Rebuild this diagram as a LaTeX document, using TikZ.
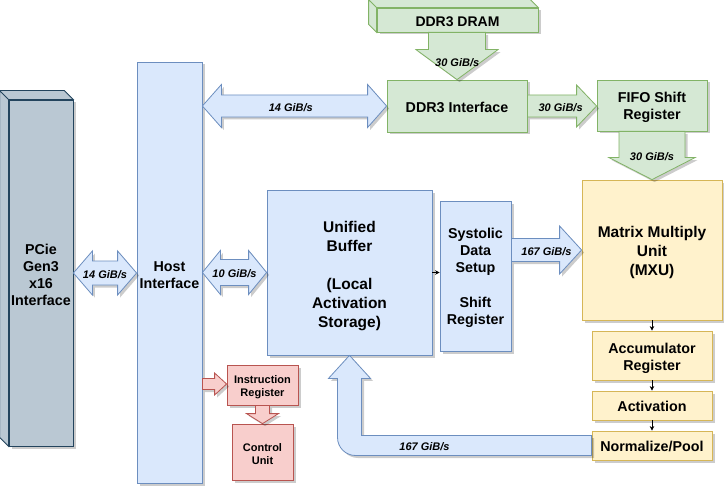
\documentclass[tikz,border=0pt]{standalone}
\usepackage{fontspec}
\setmainfont{Liberation Sans}
\usetikzlibrary{calc,shadows,arrows.meta}

\definecolor{bluefill}{HTML}{DAE8FC}
\definecolor{blueline}{HTML}{6C8EBF}
\definecolor{greenfill}{HTML}{D5E8D4}
\definecolor{greenline}{HTML}{82B366}
\definecolor{yellowfill}{HTML}{FFF2CC}
\definecolor{yellowline}{HTML}{D6B656}
\definecolor{redfill}{HTML}{F8CECC}
\definecolor{redline}{HTML}{B85450}
\definecolor{grayfill}{HTML}{BAC8D3}
\definecolor{grayline}{HTML}{23445D}

% pushes the first line of a label down a little
\newcommand{\toppad}[1]{\rule{0pt}{#1}}

\tikzset{
  boxshadow/.style={drop shadow={shadow xshift=2.5pt,shadow yshift=-2.5pt,opacity=0.2,fill=black}},
  tpubox/.style={draw,line width=0.8pt,boxshadow,align=center,inner sep=0pt,
    font=\bfseries\fontsize{14.3}{17}\selectfont},
  bluebox/.style={tpubox,fill=bluefill,draw=blueline},
  greenbox/.style={tpubox,fill=greenfill,draw=greenline},
  yellowbox/.style={tpubox,fill=yellowfill,draw=yellowline},
  redbox/.style={tpubox,fill=redfill,draw=redline,font=\bfseries\fontsize{11}{13}\selectfont},
  graybox/.style={tpubox,fill=grayfill,draw=grayline},
  bigtext/.style={font=\bfseries\fontsize{15.5}{19}\selectfont},
  busarrow/.style={line width=0.8pt,line join=miter,boxshadow},
  ratelabel/.style={inner sep=0pt,yshift=-1.5pt,font=\bfseries\itshape\fontsize{11}{13}\selectfont},
  wire/.style={-{Stealth[length=4.5pt,width=4.5pt]},line width=0.8pt}
}

\begin{document}
\begin{tikzpicture}[x=1pt,y=1pt]
\useasboundingbox (0,0) rectangle (724,-487);

% blocks
\node[graybox,minimum width=64,minimum height=346] (pcie) at (41,-273) {\toppad{15pt}PCie\\Gen3\\x16\\Interface};
\node[bluebox,minimum width=65,minimum height=421] (host) at (169.5,-272.5) {\toppad{16pt}Host\\Interface};
\node[greenbox,minimum width=161,minimum height=24,font=\bfseries\fontsize{14}{16}\selectfont] (dram) at (457.5,-20) {\toppad{13pt}DDR3 DRAM};
\node[greenbox,minimum width=140,minimum height=52] (ddr) at (457,-106) {\toppad{13pt}DDR3 Interface};
\node[greenbox,minimum width=110,minimum height=51] (fifo) at (652,-105.5) {\toppad{15pt}FIFO Shift\\Register};
\node[yellowbox,bigtext,minimum width=140,minimum height=140] (mxu) at (652,-250) {\toppad{16.5pt}Matrix Multiply\\Unit\\(MXU)};
\node[bluebox,bigtext,minimum width=165,minimum height=165] (ub) at (349.5,-272.5) {\toppad{18pt}Unified\\Buffer\\[19pt](Local\\Activation\\Storage)};
\node[bluebox,minimum width=71,minimum height=150] (sds) at (475.5,-276) {\toppad{15pt}Systolic\\Data\\Setup\\[18pt]Shift\\Register};
\node[yellowbox,minimum width=120,minimum height=49] (acc) at (652,-355.5) {\toppad{16pt}Accumulator\\Register};
\node[yellowbox,minimum width=120,minimum height=29] (act) at (652,-405.5) {\toppad{13pt}Activation};
\node[yellowbox,minimum width=120,minimum height=29] (norm) at (652,-445.5) {\toppad{13pt}Normalize/Pool};
\node[redbox,minimum width=71,minimum height=40] (instr) at (262.5,-385) {\toppad{12pt}Instruction\\Register};
\node[redbox,minimum width=61,minimum height=56] (ctrl) at (262.5,-452) {\toppad{12pt}Control\\Unit};

% 3d faces
\filldraw[fill=grayfill,draw=grayline,line width=0.8pt] (pcie.south west) -- ++(-9,9) -- ($(pcie.north west)+(-9,9)$) -- ($(pcie.north east)+(-9,9)$) -- (pcie.north east) -- (pcie.north west) -- cycle (pcie.north west) -- ++(-9,9);
\filldraw[fill=greenfill,draw=greenline,line width=0.8pt] (dram.south west) -- ++(-8,8) -- ($(dram.north west)+(-8,8)$) -- ($(dram.north east)+(-8,8)$) -- (dram.north east) -- (dram.north west) -- cycle (dram.north west) -- ++(-8,8);

% bus arrows
\filldraw[busarrow,fill=bluefill,draw=blueline] let \p1=(pcie.east), \p2=(host.west) in
  (\x1,\y1) -- (\x1+19,\y1+22) -- (\x1+19,\y1+12) -- (\x2-19,\y1+12) -- (\x2-19,\y1+22) -- (\x2,\y1)
  -- (\x2-19,\y1-22) -- (\x2-19,\y1-12) -- (\x1+19,\y1-12) -- (\x1+19,\y1-22) -- cycle;
\filldraw[busarrow,fill=bluefill,draw=blueline] let \p1=(host.east), \p2=(ddr.west) in
  (\x1,\y2) -- (\x1+19,\y2+21.5) -- (\x1+19,\y2+11) -- (\x2-19,\y2+11) -- (\x2-19,\y2+21.5) -- (\x2,\y2)
  -- (\x2-19,\y2-21.5) -- (\x2-19,\y2-11) -- (\x1+19,\y2-11) -- (\x1+19,\y2-21.5) -- cycle;
\filldraw[busarrow,fill=bluefill,draw=blueline] let \p1=(host.east), \p2=(ub.west) in
  (\x1,\y2) -- (\x1+18,\y2+22) -- (\x1+18,\y2+13) -- (\x2-18,\y2+13) -- (\x2-18,\y2+22) -- (\x2,\y2)
  -- (\x2-18,\y2-22) -- (\x2-18,\y2-13) -- (\x1+18,\y2-13) -- (\x1+18,\y2-22) -- cycle;
\filldraw[busarrow,fill=greenfill,draw=greenline] let \p1=(dram.south), \p2=(ddr.north) in
  (\x2-28.5,\y1) -- (\x2+28.5,\y1) -- (\x2+28.5,\y2+30) -- (\x2+41,\y2+30) -- (\x2,\y2)
  -- (\x2-41,\y2+30) -- (\x2-28.5,\y2+30) -- cycle;
\filldraw[busarrow,fill=greenfill,draw=greenline] let \p1=(ddr.east), \p2=(fifo.west) in
  (\x1,\y1+11) -- (\x2-20,\y1+11) -- (\x2-20,\y1+21) -- (\x2,\y1) -- (\x2-20,\y1-21) -- (\x2-20,\y1-11)
  -- (\x1,\y1-11) -- cycle;
\filldraw[busarrow,fill=greenfill,draw=greenline] let \p1=(fifo.south), \p2=(mxu.north) in
  (\x2-33,\y1) -- (\x2+33,\y1) -- (\x2+33,\y2+22) -- (\x2+43,\y2+22) -- (\x2,\y2)
  -- (\x2-43,\y2+22) -- (\x2-33,\y2+22) -- cycle;
\filldraw[busarrow,fill=bluefill,draw=blueline] let \p1=(sds.east), \p2=(mxu.west) in
  (\x1,\y2+11.5) -- (\x2-22,\y2+11.5) -- (\x2-22,\y2+24) -- (\x2,\y2) -- (\x2-22,\y2-24) -- (\x2-22,\y2-11.5)
  -- (\x1,\y2-11.5) -- cycle;
\filldraw[busarrow,fill=redfill,draw=redline] let \p1=(host.east), \p2=(instr.west) in
  (\x1,\y2+6.5) -- (\x2-12,\y2+6.5) -- (\x2-12,\y2+12) -- (\x2,\y2+1) -- (\x2-12,\y2-10) -- (\x2-12,\y2-4.5)
  -- (\x1,\y2-4.5) -- cycle;
\filldraw[busarrow,fill=redfill,draw=redline] let \p1=(instr.south), \p2=(ctrl.north) in
  (\x1-7,\y1) -- (\x1+7,\y1) -- (\x1+7,\y2+10) -- (\x1+16,\y2+10) -- (\x1,\y2)
  -- (\x1-16,\y2+10) -- (\x1-7,\y2+10) -- cycle;
\filldraw[busarrow,fill=bluefill,draw=blueline] let \p1=(norm.west), \p2=(ub.south) in
  (\x1,\y1+10) -- (\x2+12,\y1+10) -- (\x2+12,\y2-23) -- (\x2+21,\y2-23) -- (\x2,\y2) -- (\x2-21,\y2-23)
  -- (\x2-12,\y2-23) -- (\x2-12,\y1+8) arc[start angle=180,end angle=270,radius=18] -- (\x1,\y1-10) -- cycle;

% rates
\node[ratelabel] (r1) at ($(pcie.east)!0.5!(host.west)$) {14 GiB/s};
\node[ratelabel] (r2) at ($(host.east |- ddr.west)!0.48!(ddr.west)$) {14 GiB/s};
\node[ratelabel] (r3) at ($(host.east |- ub.west)!0.5!(ub.west)$) {10 GiB/s};
\node[ratelabel] (r4) at ($(dram.south)!0.6!(ddr.north)$) {30 GiB/s};
\node[ratelabel] (r5) at ($(ddr.east)!0.48!(fifo.west)$) {30 GiB/s};
\node[ratelabel] (r6) at ($(fifo.south)!0.5!(mxu.north)$) {30 GiB/s};
\node[ratelabel] (r7) at ($(sds.east |- mxu.west)!0.5!(mxu.west)$) {167 GiB/s};
\node[ratelabel] (r8) at ($(ub.south |- norm.west)!0.31!(norm.west)$) {167 GiB/s};

% data path
\draw[wire] (ub.east) -- (ub.east -| sds.west);
\draw[wire] (mxu.south) -- (acc.north);
\draw[wire] (acc.south) -- (act.north);
\draw[wire] (act.south) -- (norm.north);
\end{tikzpicture}
\end{document}
